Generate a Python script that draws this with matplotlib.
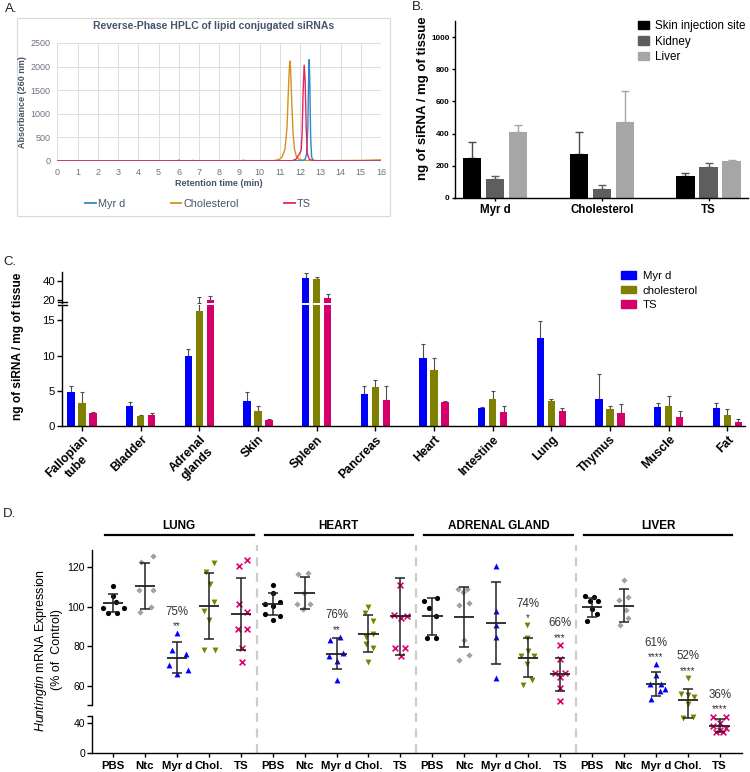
import numpy as np
import matplotlib
matplotlib.use('Agg')
import matplotlib.pyplot as plt
from matplotlib.patches import Rectangle, Patch
from matplotlib.lines import Line2D

W, H = 750, 772
plt.rcParams['font.family'] = ['Liberation Sans', 'DejaVu Sans']
plt.rcParams['mathtext.fontset'] = 'custom'
plt.rcParams['mathtext.rm'] = 'Liberation Sans'
plt.rcParams['mathtext.it'] = 'Liberation Sans:italic'
plt.rcParams['mathtext.bf'] = 'Liberation Sans:bold'

# ---------------- data ----------------
# A: HPLC chromatograms (retention time in min, absorbance at 260 nm)
hplc_myr_t = [0, 12.15, 12.25, 12.32, 12.38, 12.42, 12.45, 12.48, 12.52, 12.57, 12.65, 12.8, 16]
hplc_myr_a = [0, 5, 40, 150, 700, 1700, 2150, 1650, 500, 80, 15, 3, 0]
hplc_chol_t = [0, 10.7, 10.95, 11.1, 11.25, 11.35, 11.42, 11.47, 11.5, 11.53, 11.58, 11.65, 11.72, 11.82, 11.95, 12.2, 13, 15, 16]
hplc_chol_a = [3, 8, 30, 80, 250, 700, 1500, 2000, 2120, 1950, 1300, 600, 250, 90, 35, 12, 8, 12, 25]
hplc_ts_t = [0, 5.9, 6.0, 6.1, 6.6, 6.7, 6.8, 9.1, 9.2, 9.3, 11.6, 11.8, 11.95, 12.05, 12.1, 12.15, 12.2, 12.25, 12.3, 12.36, 12.45, 12.6, 12.8, 16]
hplc_ts_a = [0, 0, 18, 0, 0, 12, 0, 0, 16, 0, 5, 40, 140, 220, 600, 1500, 2030, 1700, 700, 150, 40, 10, 3, 0]

# B: biodistribution (ng siRNA / mg tissue)
b_groups = ['Myr d', 'Cholesterol', 'TS']
b_skin = [250, 272, 137]
b_skin_err = [95, 136, 21]
b_kidney = [120, 58, 193]
b_kidney_err = [18, 24, 25]
b_liver = [412, 470, 232]
b_liver_err = [43, 195, 5]

# C: tissue distribution
c_tissues = ['Fallopian\ntube', 'Bladder', 'Adrenal\nglands', 'Skin', 'Spleen', 'Pancreas',
             'Heart', 'Intestine', 'Lung', 'Thymus', 'Muscle', 'Fat']
c_myr = [4.8, 2.9, 10.0, 3.6, 44.0, 4.6, 9.7, 2.6, 12.5, 3.8, 2.7, 2.6]
c_myr_err = [0.9, 0.5, 1.0, 1.2, 4.5, 1.1, 2.0, 0.05, 2.4, 3.6, 0.6, 0.7]
c_chol = [3.2, 1.45, 16.3, 2.2, 42.2, 5.5, 7.9, 3.9, 3.5, 2.4, 2.9, 1.55]
c_chol_err = [1.6, 0.05, 6.2, 0.7, 2.6, 1.1, 1.8, 1.1, 0.4, 0.5, 1.3, 0.85]
c_ts = [1.9, 1.55, 19.2, 0.8, 21.9, 3.7, 3.45, 2.0, 2.1, 1.9, 1.3, 0.6]
c_ts_err = [0.1, 0.35, 4.3, 0.2, 4.4, 2.0, 0.05, 0.8, 0.4, 1.2, 0.9, 0.4]

# D: Huntingtin mRNA expression (% of control)
d_organs = ['LUNG', 'HEART', 'ADRENAL GLAND', 'LIVER']
d_treatments = ['PBS', 'Ntc', 'Myr d', 'Chol.', 'TS']
d_points = [
    [110.3, 105.5, 102.5, 99.5, 99.5, 97.0, 96.8],
    [125.8, 122.3, 108.5, 108.5, 99.7, 97.5],
    [86.7, 78.2, 76.0, 70.5, 68.3, 66.2],
    [121.9, 117.7, 111.5, 102.5, 98.0, 93.4, 78.2, 78.2],
    [123.8, 120.3, 101.4, 97.5, 88.7, 88.7, 79.4, 72.2],
    [111.1, 106.9, 101.4, 102.2, 100.2, 96.3, 95.1, 93.4],
    [117.0, 116.5, 106.8, 101.4, 101.4, 99.0],
    [83.3, 84.8, 75.2, 76.6, 72.7, 63.0],
    [99.7, 96.8, 92.9, 86.5, 84.5, 81.1, 79.0, 72.3],
    [111.1, 96.0, 94.3, 95.4, 79.4, 79.4, 75.2],
    [103.0, 104.4, 99.3, 95.4, 84.2, 84.2],
    [109.0, 109.0, 107.2, 101.0, 101.9, 83.1, 73.2, 75.7],
    [120.4, 97.6, 90.9, 84.5, 63.9],
    [90.7, 84.2, 77.7, 75.2, 75.2, 71.3, 60.5, 63.0],
    [80.8, 73.5, 66.7, 66.7, 64.7, 58.8, 52.4],
    [105.6, 104.7, 102.7, 103.0, 98.8, 96.3, 92.6],
    [113.5, 104.7, 103.4, 98.3, 94.3, 90.9],
    [71.0, 65.6, 61.0, 61.0, 58.5, 57.5, 53.5],
    [64.2, 56.1, 55.4, 54.4, 50.8, 47.1, 48.4],
    [48.4, 48.4, 39.5, 36.0, 33.0, 30.5, 27.6, 27.6],
]
d_offsets = [
    [0.0, 0.0, 0.1, -0.33, 0.35, -0.17, 0.12],
    [0.25, -0.12, -0.2, 0.25, 0.2, -0.15],
    [0.0, -0.15, 0.3, -0.25, 0.35, 0.0],
    [0.16, -0.08, 0.04, 0.16, -0.14, 0.02, -0.14, 0.18],
    [0.21, -0.07, -0.07, 0.21, -0.09, 0.21, 0.05, 0.05],
    [0.0, 0.0, -0.25, 0.22, 0.0, -0.25, 0.22, 0.0],
    [0.1, -0.2, -0.03, -0.24, 0.18, -0.05],
    [-0.19, 0.11, -0.25, 0.2, 0.0, 0.0],
    [0.0, -0.11, 0.14, 0.14, -0.09, -0.09, 0.14, 0.0],
    [0.0, -0.21, 0.02, 0.21, -0.16, 0.13, 0.02],
    [-0.27, 0.15, -0.11, 0.1, -0.17, 0.13],
    [-0.21, 0.1, -0.04, -0.15, 0.14, -0.02, -0.15, 0.14],
    [0.0, 0.0, 0.0, 0.0, 0.0],
    [-0.04, -0.02, 0.0, -0.23, 0.19, -0.02, -0.15, 0.11],
    [0.0, 0.0, -0.16, 0.16, 0.0, 0.0, 0.0],
    [-0.22, 0.06, 0.2, -0.06, 0.01, 0.15, -0.15],
    [0.01, 0.12, -0.15, 0.06, 0.14, -0.13],
    [0.02, 0.0, -0.17, 0.15, 0.28, 0.14, -0.14],
    [0.0, -0.22, 0.0, 0.2, 0.0, -0.14, 0.15],
    [-0.2, 0.21, 0.0, -0.2, 0.21, 0.0, -0.1, 0.1],
]
d_means = [101.8, 110.3, 74.4, 100.3, 96.5,
           101.4, 106.8, 76.4, 86.5, 95.1,
           95.1, 94.9, 91.7, 74.3, 65.9,
           99.7, 100.5, 61.2, 52.8, 36.4]
d_sds = [4.7, 11.6, 7.7, 16.6, 18.2,
         5.6, 8.1, 7.9, 9.3, 19.4,
         9.2, 15.2, 20.6, 9.9, 8.4,
         4.8, 8.4, 6.1, 5.9, 8.5]
d_pct_idx = [2, 7, 13, 14, 17, 18, 19]
d_pct_text = ['75%', '76%', '74%', '66%', '61%', '52%', '36%']
d_stars = ['**', '**', '*', '***', '****', '****', '****']

# ---------------- figure ----------------
fig = plt.figure(figsize=(W / 100, H / 100), dpi=100)
fig.patch.set_facecolor('white')


def px_axes(x0, y0, x1, y1):
    return fig.add_axes([x0 / W, 1 - y1 / H, (x1 - x0) / W, (y1 - y0) / H])


def fx(x):
    return x / W


def fy(y):
    return 1 - y / H


# panel letters
for lab, (x, y) in zip(['A.', 'B.', 'C.', 'D.'], [(11, 9), (418, 7), (10, 262), (9, 514)]):
    fig.text(fx(x), fy(y), lab, fontsize=9.5, ha='center', va='center', color='#222222')

# ---------------- Panel A ----------------
slate = '#44546a'
fig.patches.append(Rectangle((fx(17), fy(216)), (390 - 17) / W, (216 - 18) / H,
                             transform=fig.transFigure, fill=False, ec='#d9d9d9', lw=0.8))
axA = px_axes(57.5, 43, 381, 161)
colA = {'Myr d': '#2f86c9', 'Cholesterol': '#d6901c', 'TS': '#e8245f'}
axA.plot(hplc_myr_t, hplc_myr_a, color=colA['Myr d'], lw=1.0, label='Myr d', zorder=3)
axA.plot(hplc_chol_t, hplc_chol_a, color=colA['Cholesterol'], lw=1.0, label='Cholesterol', zorder=2)
axA.plot(hplc_ts_t, hplc_ts_a, color=colA['TS'], lw=1.0, label='TS', zorder=4)
axA.set_xlim(0, 16)
axA.set_ylim(0, 2500)
axA.set_xticks(range(0, 17))
axA.set_yticks(range(0, 2501, 500))
axA.grid(True, color='#dddddd', lw=0.7)
axA.set_axisbelow(True)
for s in axA.spines.values():
    s.set_visible(False)
axA.tick_params(length=0, labelsize=6.5, colors='#6a7480', pad=5)
fig.text(fx(214), fy(26), 'Reverse-Phase HPLC of lipid conjugated siRNAs', fontsize=7.5,
         fontweight='bold', color=slate, ha='center', va='center')
fig.text(fx(219), fy(183), 'Retention time (min)', fontsize=6.5, fontweight='bold',
         color=slate, ha='center', va='center')
fig.text(fx(23), fy(102), 'Absorbance (260 nm)', fontsize=6.5, fontweight='bold',
         color=slate, ha='center', va='center', rotation=90)
legA = fig.legend(handles=[Line2D([], [], color=colA[k], lw=1.3) for k in colA], labels=list(colA),
                  loc='center', bbox_to_anchor=(fx(198), fy(204)), ncol=3, frameon=False,
                  fontsize=7.8, handlelength=1.0, handletextpad=0.15, columnspacing=4.2)
for t in legA.get_texts():
    t.set_color('#44546a')

# ---------------- Panel B ----------------
axB = px_axes(455, 21, 748, 198)
xb = np.arange(len(b_groups))
bw = 0.17
boff = 0.2156
b_cols = ['#000000', '#5e5e5e', '#a6a6a6']
b_ecols = ['#4a4a4a', '#5e5e5e', '#a6a6a6']
for k, (vals, errs, lab) in enumerate([(b_skin, b_skin_err, 'Skin injection site'),
                                        (b_kidney, b_kidney_err, 'Kidney'),
                                        (b_liver, b_liver_err, 'Liver')]):
    xs = xb + (k - 1) * boff
    axB.bar(xs, vals, width=bw, color=b_cols[k], label=lab, zorder=2)
    axB.errorbar(xs, vals, yerr=[np.zeros(len(vals)), errs], fmt='none', ecolor=b_ecols[k],
                 elinewidth=1.0, capsize=3.2, capthick=1.0, zorder=1)
axB.set_xlim(-0.375, 2.37)
axB.set_ylim(0, 1100)
axB.set_yticks(range(0, 1001, 200))
axB.set_yticklabels([str(v) for v in range(0, 1001, 200)], fontweight='bold', fontsize=5.8)
axB.set_xticks(xb)
axB.set_xticklabels(b_groups, fontweight='bold', fontsize=8.3)
axB.spines['top'].set_visible(False)
axB.spines['right'].set_visible(False)
for s in ['left', 'bottom']:
    axB.spines[s].set_linewidth(1.0)
axB.tick_params(axis='y', length=2.5, width=1.0, pad=1.5)
axB.tick_params(axis='x', length=2.5, width=1.0, pad=2)
fig.text(fx(423), fy(98), 'ng of siRNA / mg of tissue', fontsize=9.5, fontweight='bold',
         rotation=90, ha='center', va='center')
fig.legend(handles=[Patch(color=c) for c in b_cols], labels=['Skin injection site', 'Kidney', 'Liver'],
           loc='upper left', bbox_to_anchor=(fx(638), fy(20)), frameon=False, fontsize=8.4,
           handlelength=0.95, handleheight=0.7, handletextpad=0.5, labelspacing=0.3,
           borderpad=0, borderaxespad=0)

# ---------------- Panel C ----------------
axCl = px_axes(62, 305, 745, 426)
axCu = px_axes(62, 272, 745, 302.5)
xc = np.arange(len(c_tissues))
cw = 0.128
coff = 0.1875
c_cols = ['#0000ff', '#808000', '#d6006b']
C_UP0 = 17
for ax, lower in ((axCl, True), (axCu, False)):
    for k, (vals, errs) in enumerate([(c_myr, c_myr_err), (c_chol, c_chol_err), (c_ts, c_ts_err)]):
        xs = xc + (k - 1) * coff
        ax.bar(xs, vals, width=cw, color=c_cols[k], zorder=2)
        keep = [i for i in range(len(vals)) if lower or vals[i] + errs[i] > C_UP0]
        ax.errorbar(xs[keep], np.array(vals)[keep],
                    yerr=[np.zeros(len(keep)), np.array(errs)[keep]], fmt='none', ecolor='#4d4d4d',
                    elinewidth=0.8, capsize=1.3, capthick=0.8, zorder=1)
    ax.set_xlim(-0.34, 11.3)
    ax.spines['top'].set_visible(False)
    ax.spines['right'].set_visible(False)
    ax.spines['left'].set_linewidth(1.0)
    ax.tick_params(axis='y', length=3.5, width=1.0, labelsize=8.2, pad=1.5)
axCl.set_ylim(0, 17.2)
axCl.set_yticks([0, 5, 10, 15])
axCu.set_ylim(C_UP0, 50)
axCu.set_yticks([20, 40])
axCu.spines['bottom'].set_visible(False)
axCu.set_xticks([])
axCl.spines['bottom'].set_linewidth(1.0)
axCl.set_xticks(xc)
axCl.set_xticklabels(c_tissues, rotation=45, ha='right', va='top', rotation_mode='anchor',
                     fontweight='bold', fontsize=8.8, multialignment='center')
axCl.tick_params(axis='x', length=3.5, width=1.0, pad=2)
for yy in (302, 304.5):
    fig.add_artist(Line2D([fx(58), fx(67)], [fy(yy), fy(yy)], color='black', lw=1.0))
fig.text(fx(18), fy(346), 'ng of siRNA / mg of tissue', fontsize=8.6, fontweight='bold',
         rotation=90, ha='center', va='center')
fig.legend(handles=[Patch(color=c) for c in c_cols], labels=['Myr d', 'cholesterol', 'TS'],
           loc='upper left', bbox_to_anchor=(fx(621), fy(271)), frameon=False, fontsize=8.2,
           handlelength=1.3, handleheight=0.6, handletextpad=0.6, labelspacing=0.4,
           borderpad=0, borderaxespad=0)

# ---------------- Panel D ----------------
axD = px_axes(92, 550, 742, 753)
bx = [-1000, 0, 50, 50.7, 1000]
by = [-750, 0, 37.5, 48.5, 48.5 + (1000 - 50.7) * 1.985]


def fwd(y):
    return np.interp(y, bx, by)


def inv(p):
    return np.interp(p, by, bx)


axD.set_yscale('function', functions=(fwd, inv))
axD.set_ylim(0, 128.6)
axD.set_xlim(-0.66, 19.7)

d_markers = ['o', 'D', '^', 'v', 'x']
d_colors = ['#000000', '#a0a0a0', '#0000ff', '#808000', '#e0006f']
d_sizes = [14, 10, 18, 18, 17]
for g in range(20):
    t = g % 5
    xs = g + np.array(d_offsets[g])
    if d_markers[t] == 'x':
        axD.scatter(xs, d_points[g], marker='x', s=d_sizes[t], color=d_colors[t], lw=1.2, zorder=3)
    else:
        axD.scatter(xs, d_points[g], marker=d_markers[t], s=d_sizes[t], color=d_colors[t], lw=0, zorder=3)
    axD.errorbar(g, d_means[g], yerr=d_sds[g], fmt='none', ecolor='#222222', elinewidth=1.1,
                 capsize=3.6, capthick=1.1, zorder=4)
    axD.hlines(d_means[g], g - 0.32, g + 0.32, color='#222222', lw=1.3, zorder=4)

for i, g in enumerate(d_pct_idx):
    top = max(max(d_points[g]), d_means[g] + d_sds[g])
    axD.annotate(d_pct_text[i], (g, top), xytext=(0, 13.3), textcoords='offset points',
                 ha='center', va='baseline', fontsize=8.3, color='#333333')
    axD.annotate(d_stars[i], (g, top), xytext=(0, 3.0), textcoords='offset points',
                 ha='center', va='baseline', fontsize=7, color='#333333')

for sx in (4.5, 9.5, 14.5):
    axD.axvline(sx, ymin=0, ymax=1.025, color='#cccccc', lw=1.6, ls=(0, (4, 3)), clip_on=False, zorder=0)

xtr = axD.get_xaxis_transform()
for k, org in enumerate(d_organs):
    axD.plot([5 * k - 0.25, 5 * k + 4.4], [1.074, 1.074], color='black', lw=1.6,
             transform=xtr, clip_on=False)
    axD.text(5 * k + 2.07, 1.118, org, transform=xtr, ha='center', va='center',
             fontsize=8.5, fontweight='bold')

axD.spines['top'].set_visible(False)
axD.spines['right'].set_visible(False)
axD.spines['left'].set_visible(False)
axD.spines['bottom'].set_linewidth(1.0)
ytr = axD.get_yaxis_transform()
axD.plot([0, 0], [0, 50], color='black', lw=1.0, transform=ytr, clip_on=False)
axD.plot([0, 0], [50.7, 128.6], color='black', lw=1.0, transform=ytr, clip_on=False)
axD.set_yticks([0, 40, 50, 50.7, 60, 80, 100, 120])
axD.set_yticklabels(['0', '40', '', '', '60', '80', '100', '120'])
axD.yaxis.set_minor_locator(matplotlib.ticker.NullLocator())
axD.tick_params(axis='y', length=3.6, width=1.0, labelsize=7.5, pad=1.5)
axD.set_xticks(range(20))
axD.set_xticklabels(d_treatments * 4, fontweight='bold', fontsize=8.2)
axD.tick_params(axis='x', length=3.0, width=1.0, pad=2.5)
fig.text(fx(48), fy(650), '$\\it{Huntingtin}$ mRNA Expression\n(% of  Control)', fontsize=9,
         rotation=90, ha='center', va='center', linespacing=1.2)

fig.savefig('out.png', dpi=100)
